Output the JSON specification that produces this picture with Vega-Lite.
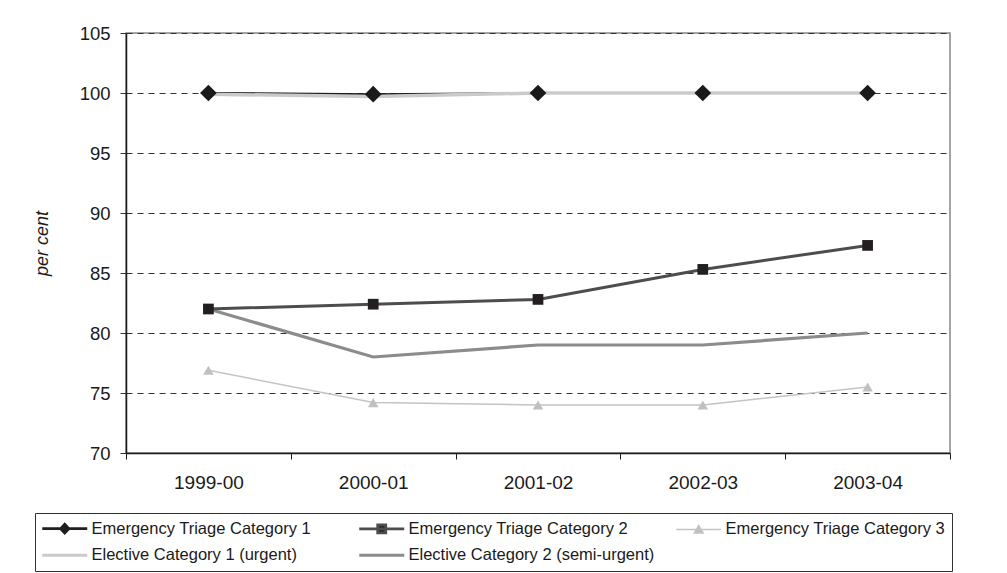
{
  "$schema": "https://vega.github.io/schema/vega-lite/v6.json",
  "width": 824,
  "height": 420,
  "autosize": {"type": "none"},
  "padding": {"left": 126, "top": 33, "right": 57, "bottom": 120},
  "background": "white",
  "config": {
    "font": "Liberation Sans",
    "view": {"stroke": "#888888", "strokeWidth": 1.5},
    "axis": {"labelFont": "Liberation Sans", "labelColor": "#1a1a1a", "titleFont": "Liberation Sans"},
    "legend": {
      "title": null, "orient": "none", "legendX": -91, "legendY": 480,
      "direction": "horizontal", "columns": 3, "gridAlign": "all",
      "columnPadding": 15, "rowPadding": 8, "padding": 7,
      "strokeColor": "#333333", "fillColor": "white",
      "labelFont": "Liberation Sans", "labelFontSize": 16.5, "labelColor": "#1a1a1a",
      "labelLimit": 400, "symbolSize": 256, "labelOffset": 33
    }
  },
  "data": {
    "values": [
      {"year": "1999-00", "series": "Emergency Triage Category 1", "value": 100.0},
      {"year": "2000-01", "series": "Emergency Triage Category 1", "value": 99.9},
      {"year": "2001-02", "series": "Emergency Triage Category 1", "value": 100.0},
      {"year": "2002-03", "series": "Emergency Triage Category 1", "value": 100.0},
      {"year": "2003-04", "series": "Emergency Triage Category 1", "value": 100.0},
      {"year": "1999-00", "series": "Emergency Triage Category 2", "value": 82.0},
      {"year": "2000-01", "series": "Emergency Triage Category 2", "value": 82.4},
      {"year": "2001-02", "series": "Emergency Triage Category 2", "value": 82.8},
      {"year": "2002-03", "series": "Emergency Triage Category 2", "value": 85.3},
      {"year": "2003-04", "series": "Emergency Triage Category 2", "value": 87.3},
      {"year": "1999-00", "series": "Emergency Triage Category 3", "value": 76.9},
      {"year": "2000-01", "series": "Emergency Triage Category 3", "value": 74.2},
      {"year": "2001-02", "series": "Emergency Triage Category 3", "value": 74.0},
      {"year": "2002-03", "series": "Emergency Triage Category 3", "value": 74.0},
      {"year": "2003-04", "series": "Emergency Triage Category 3", "value": 75.5},
      {"year": "1999-00", "series": "Elective Category 1 (urgent)", "value": 99.9},
      {"year": "2000-01", "series": "Elective Category 1 (urgent)", "value": 99.7},
      {"year": "2001-02", "series": "Elective Category 1 (urgent)", "value": 100.0},
      {"year": "2002-03", "series": "Elective Category 1 (urgent)", "value": 100.0},
      {"year": "2003-04", "series": "Elective Category 1 (urgent)", "value": 100.0},
      {"year": "1999-00", "series": "Elective Category 2 (semi-urgent)", "value": 82.0},
      {"year": "2000-01", "series": "Elective Category 2 (semi-urgent)", "value": 78.0},
      {"year": "2001-02", "series": "Elective Category 2 (semi-urgent)", "value": 79.0},
      {"year": "2002-03", "series": "Elective Category 2 (semi-urgent)", "value": 79.0},
      {"year": "2003-04", "series": "Elective Category 2 (semi-urgent)", "value": 80.0}
    ]
  },
  "encoding": {
    "x": {
      "field": "year", "type": "nominal", "sort": null,
      "scale": {"paddingInner": 0, "paddingOuter": 0},
      "axis": {
        "title": null, "labelAngle": 0, "labelFontSize": 19, "labelPadding": 14,
        "tickBand": "extent", "tickSize": 6, "tickColor": "#1a1a1a",
        "domainColor": "#1a1a1a", "domainWidth": 1.5, "grid": false
      }
    },
    "y": {
      "field": "value", "type": "quantitative",
      "scale": {"domain": [70, 105], "nice": false, "zero": false},
      "axis": {
        "title": "per cent", "titleFontStyle": "italic", "titleFontWeight": "normal",
        "titleFontSize": 18, "titleColor": "#1a1a1a", "titlePadding": 28,
        "values": [70, 75, 80, 85, 90, 95, 100, 105],
        "labelFontSize": 18.5, "labelPadding": 10, "tickSize": 6, "tickColor": "#333333",
        "domainColor": "#1a1a1a", "domainWidth": 1.5,
        "grid": true, "gridColor": "#333333", "gridDash": [6, 5], "gridWidth": 1
      }
    },
    "color": {
      "field": "series", "type": "nominal",
      "scale": {
        "domain": ["Emergency Triage Category 1", "Emergency Triage Category 2", "Emergency Triage Category 3", "Elective Category 1 (urgent)", "Elective Category 2 (semi-urgent)"],
        "range": ["#1f1f1f", "#4d4d4d", "#c4c4c4", "#cacaca", "#8c8c8c"]
      },
      "legend": {
        "encode": {
          "symbols": {
            "update": {
              "shape": {"signal": "datum.value == 'Emergency Triage Category 1' ? 'M-1,0H4.625M1.81,-0.55L2.32,0L1.81,0.55L1.3,0Z' : datum.value == 'Emergency Triage Category 2' ? 'M-1,0H4.625M1.31,-0.5H2.31V0.5H1.31Z' : datum.value == 'Emergency Triage Category 3' ? 'M-1,0H4.625M1.81,-0.5L2.36,0.45H1.26Z' : 'M-1,0H4.625'"},
              "fill": {"signal": "datum.value == 'Emergency Triage Category 1' ? '#1a1a1a' : datum.value == 'Emergency Triage Category 2' ? '#231f20' : datum.value == 'Emergency Triage Category 3' ? '#c0c0c0' : 'transparent'"},
              "stroke": {"scale": "color", "field": "value"},
              "strokeWidth": {"signal": "datum.value == 'Emergency Triage Category 3' ? 1.5 : 2.8"},
              "opacity": {"value": 1}
            }
          }
        }
      }
    }
  },
  "layer": [
    {
      "transform": [{"filter": "datum.series == 'Elective Category 2 (semi-urgent)'"}],
      "mark": {"type": "line", "strokeWidth": 3.2}
    },
    {
      "transform": [{"filter": "datum.series == 'Emergency Triage Category 3'"}],
      "mark": {"type": "line", "strokeWidth": 1.5}
    },
    {
      "transform": [{"filter": "datum.series == 'Emergency Triage Category 2'"}],
      "mark": {"type": "line", "strokeWidth": 3}
    },
    {
      "transform": [{"filter": "datum.series == 'Emergency Triage Category 1'"}],
      "mark": {"type": "line", "strokeWidth": 2}
    },
    {
      "transform": [{"filter": "datum.series == 'Elective Category 1 (urgent)'"}],
      "mark": {"type": "line", "strokeWidth": 3.5}
    },
    {
      "transform": [{"filter": "datum.series == 'Emergency Triage Category 3'"}],
      "mark": {"type": "point", "filled": true, "opacity": 1, "shape": "triangle-up", "size": 110, "fill": "#c0c0c0"},
      "encoding": {"color": {"value": "#c0c0c0"}}
    },
    {
      "transform": [{"filter": "datum.series == 'Emergency Triage Category 2'"}],
      "mark": {"type": "point", "filled": true, "opacity": 1, "shape": "square", "size": 115, "fill": "#231f20"},
      "encoding": {"color": {"value": "#231f20"}}
    },
    {
      "transform": [{"filter": "datum.series == 'Emergency Triage Category 1'"}],
      "mark": {"type": "point", "filled": true, "opacity": 1, "shape": "diamond", "size": 280, "fill": "#1a1a1a"},
      "encoding": {"color": {"value": "#1a1a1a"}}
    }
  ]
}
